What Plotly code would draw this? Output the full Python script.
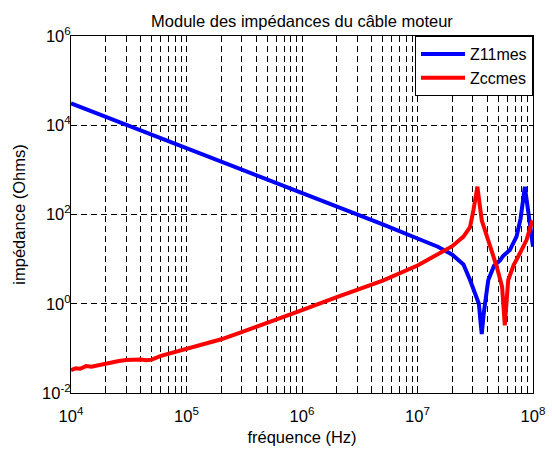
import plotly.graph_objects as go

# Z11mes (blue)
f_z11 = [1e4, 2e4, 5e4, 1e5, 2e5, 5e5, 1e6, 2e6, 5e6, 1e7, 1.5e7, 2e7, 2.5e7, 2.85e7,
         3.2e7, 3.4e7, 3.5e7, 3.6e7, 3.75e7, 4.1e7, 4.6e7, 5.2e7, 5.5e7, 6.3e7, 7.2e7,
         7.8e7, 8.5e7, 9.2e7, 1e8]
z11 = [3.1e4, 1.55e4, 6.2e3, 3.1e3, 1.55e3, 620, 300, 150, 60, 29, 19, 12.6, 7.6, 3.4,
       1.6, 1.0, 0.43, 0.21, 0.63, 3.4, 7.1, 9.5, 11.7, 16, 32,
       80, 420, 80, 19]

# Zccmes (red)
f_zcc = [1.0e4, 1.1e4, 1.2e4, 1.35e4, 1.5e4, 1.7e4, 1.9e4, 2.2e4, 2.6e4, 3.0e4, 3.5e4,
         4.0e4, 4.5e4, 5.0e4, 6.0e4, 7.0e4, 1e5, 1.5e5, 2e5, 3e5, 5e5, 1e6, 2e6, 5e6,
         1e7, 1.5e7, 2e7, 2.5e7, 2.85e7, 3.05e7, 3.3e7, 3.6e7, 4.0e7, 4.85e7, 5.4e7,
         5.7e7, 6.1e7, 6.8e7, 7.7e7, 8.8e7, 9.8e7, 1e8]
zcc = [0.0324, 0.036, 0.035, 0.040, 0.039, 0.042, 0.043, 0.047, 0.052, 0.055, 0.056,
       0.056, 0.054, 0.056, 0.068, 0.076, 0.095, 0.13, 0.16, 0.23, 0.38, 0.72, 1.4, 3.3,
       7.2, 12.6, 19.5, 32, 52, 126, 420, 74, 32, 6.8, 2.4,
       0.33, 3.4, 7.4, 13.5, 27, 69, 71]

x_major = [1e4, 1e5, 1e6, 1e7, 1e8]
x_major_text = ["10<sup>4</sup>", "10<sup>5</sup>", "10<sup>6</sup>", "10<sup>7</sup>", "10<sup>8</sup>"]
y_major = [1e-2, 1e0, 1e2, 1e4, 1e6]
y_major_text = ["10<sup>-2</sup>", "10<sup>0</sup>", "10<sup>2</sup>", "10<sup>4</sup>", "10<sup>6</sup>"]

x_tickvals = []
x_ticktext = []
for i, d in enumerate(x_major):
    x_tickvals.append(d)
    x_ticktext.append(x_major_text[i])
    if d < 1e8:
        for m in range(2, 10):
            x_tickvals.append(d * m)
            x_ticktext.append("")

FONT = "Liberation Sans, Arial, sans-serif"

fig = go.Figure()
fig.add_trace(go.Scatter(x=f_z11, y=z11, mode="lines", name="Z11mes",
                         line=dict(color="rgb(0,0,255)", width=4)))
fig.add_trace(go.Scatter(x=f_zcc, y=zcc, mode="lines", name="Zccmes",
                         line=dict(color="rgb(255,0,0)", width=4)))

fig.update_layout(
    width=552, height=452,
    margin=dict(l=71, r=19, t=36, b=59, autoexpand=False),
    paper_bgcolor="white", plot_bgcolor="white",
    font=dict(family=FONT, size=16, color="black"),
    title=dict(text="Module des impédances du câble moteur", x=0.547, xanchor="center",
               y=1 - 21 / 452, yanchor="middle", font=dict(size=16.5)),
    showlegend=True,
    legend=dict(x=1, xanchor="right", y=1, yanchor="top", bgcolor="white",
                bordercolor="black", borderwidth=1, font=dict(size=16),
                tracegroupgap=0, itemwidth=44),
)
fig.update_xaxes(
    type="log", range=[4, 8], tickvals=x_tickvals, ticktext=x_ticktext,
    showgrid=True, gridcolor="black", griddash="6px,4px", gridwidth=1,
    showline=True, linecolor="black", linewidth=1, mirror="allticks",
    ticks="inside", ticklen=4, tickcolor="black", zeroline=False, automargin=False,
    tickfont=dict(size=16.5), ticklabelstandoff=8,
    title=dict(text="fréquence (Hz)", font=dict(size=16.5), standoff=7),
)
fig.update_yaxes(
    type="log", range=[-2, 6], tickvals=y_major, ticktext=y_major_text,
    showgrid=True, gridcolor="black", griddash="6px,4px", gridwidth=1,
    showline=True, linecolor="black", linewidth=1, mirror="allticks",
    ticks="inside", ticklen=4, tickcolor="black", zeroline=False, automargin=False,
    tickfont=dict(size=16.5), ticklabelstandoff=-4,
    title=dict(text="impédance (Ohms)", font=dict(size=16.5), standoff=12),
)

fig.write_html("out.html", config={"displayModeBar": False},
               post_script="document.body.style.margin='0';")
